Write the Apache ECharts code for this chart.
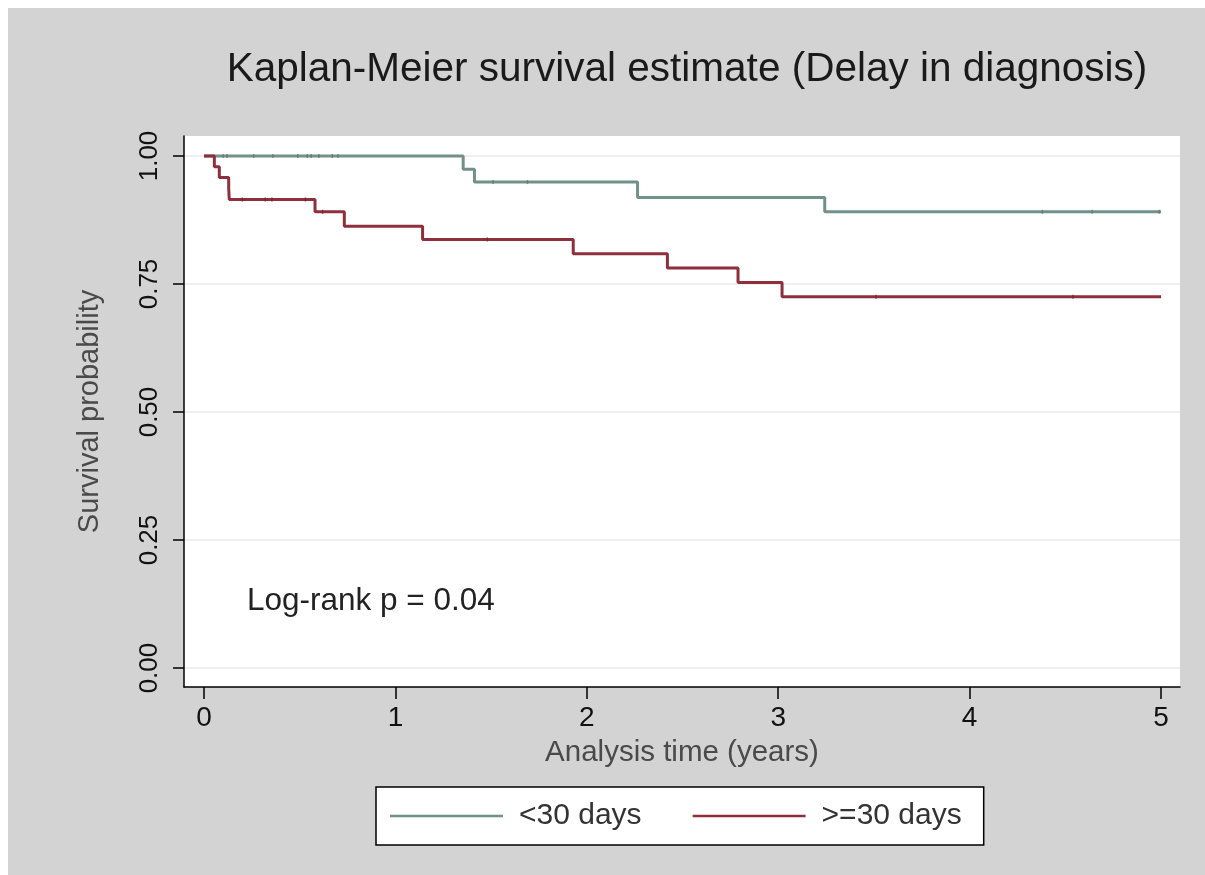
<!DOCTYPE html>
<html><head><meta charset="utf-8">
<script src="https://cdn.jsdelivr.net/npm/echarts@6/dist/echarts.min.js"></script>
<style>
html,body{margin:0;padding:0;background:#fff}
#bg{position:absolute;left:8px;top:8px;width:1197px;height:867px;background:#d3d3d3}
#c{position:absolute;left:0;top:0;width:1205px;height:875px}
</style>
</head><body><div id="bg"></div><div id="c"></div>
<script>
const titleText = 'Kaplan-Meier survival estimate (Delay in diagnosis)';
const xAxisName = 'Analysis time (years)';
const yAxisName = 'Survival probability';
const annotation = 'Log-rank p = 0.04';
const xTicks = [0, 1, 2, 3, 4, 5];
const yTicks = [0, 0.25, 0.5, 0.75, 1];
const seriesNames = ['<30 days', '>=30 days'];
// step points: [time, survival after event]
const groupLt30 = [[0,1],[1.354,0.974],[1.413,0.949],[2.265,0.919],[3.243,0.891],[5.0,0.891]];
const groupGe30 = [[0,1],[0.054,0.979],[0.080,0.958],[0.129,0.937],[0.132,0.915],[0.58,0.891],[0.733,0.863],[1.142,0.837],[1.929,0.809],[2.421,0.781],[2.79,0.753],[3.02,0.725],[5.0,0.725]];
// censor marks
const censorLt30 = [[0.10,1],[0.12,1],[0.26,1],[0.36,1],[0.49,1],[0.54,1],[0.56,1],[0.60,1],[0.67,1],[0.70,1],[1.51,0.949],[1.69,0.949],[4.38,0.891],[4.64,0.891],[4.99,0.891]];
const censorGe30 = [[0.20,0.915],[0.32,0.915],[0.355,0.915],[0.53,0.915],[0.62,0.891],[1.48,0.837],[3.51,0.725],[4.54,0.725]];

const colGreen = '#71918a';
const colRed = '#8e2f3c';
const FF = 'Liberation Sans, Arial, Helvetica, sans-serif';

const chart = echarts.init(document.getElementById('c'), null, {renderer: 'canvas'});
chart.setOption({
  backgroundColor: 'transparent',
  animation: false,
  title: {
    text: titleText, left: 682, top: 44, textAlign: 'center',
    textStyle: {fontSize: 40.5, fontWeight: 'normal', color: '#1a1a1a', fontFamily: FF}
  },
  grid: {left: 184, right: 25, top: 136, bottom: 188, show: true, backgroundColor: '#fff', borderWidth: 0, containLabel: false},
  xAxis: {
    type: 'value', min: -0.1045, max: 5.099,
    name: xAxisName, nameLocation: 'middle', nameGap: 51,
    nameTextStyle: {fontSize: 29.5, color: '#4a4a4a', fontFamily: FF},
    axisLine: {show: true, onZero: false, lineStyle: {color: '#000', width: 1.5}},
    axisTick: {show: true, length: 12, lineStyle: {color: '#000', width: 1.5}, customValues: xTicks},
    axisLabel: {customValues: xTicks, fontSize: 28, color: '#111', margin: 17, fontFamily: FF},
    splitLine: {show: false}
  },
  yAxis: {
    type: 'value', min: -0.037, max: 1.039,
    name: yAxisName, nameLocation: 'middle', nameGap: 80,
    nameTextStyle: {fontSize: 29, color: '#4a4a4a', fontFamily: FF},
    axisLine: {show: true, onZero: false, lineStyle: {color: '#000', width: 1.5}},
    axisTick: {show: true, length: 11, lineStyle: {color: '#000', width: 1.5}, customValues: yTicks},
    axisLabel: {customValues: yTicks, rotate: 90, fontSize: 26, color: '#111', margin: 21, fontFamily: FF,
      formatter: v => v.toFixed(2)},
    splitLine: {show: true, lineStyle: {color: '#eaeaea', width: 1.5}}
  },
  legend: {
    data: seriesNames, left: 376, top: 787, orient: 'horizontal', icon: 'rect',
    backgroundColor: '#fff', borderColor: '#000', borderWidth: 1.5,
    padding: [14, 22, 14, 14], itemWidth: 113, itemHeight: 2.5, itemGap: 51,
    textStyle: {fontSize: 30, color: '#333', fontFamily: FF, padding: [0, 0, 0, 11]}
  },
  graphic: [{
    type: 'text', left: 247, top: 585,
    style: {text: annotation, fontSize: 31.5, fill: '#222', fontFamily: FF}
  }],
  series: [
    {name: seriesNames[0], type: 'line', step: 'end', data: groupLt30, showSymbol: false, symbol: 'none',
      lineStyle: {color: colGreen, width: 3}, itemStyle: {color: colGreen}, z: 3},
    {name: seriesNames[1], type: 'line', step: 'end', data: groupGe30, showSymbol: false, symbol: 'none',
      lineStyle: {color: colRed, width: 3}, itemStyle: {color: colRed}, z: 3},
    {name: 'c1', type: 'scatter', data: censorLt30, symbol: 'rect', symbolSize: [1.5, 4],
      itemStyle: {color: '#5e7b74'}, z: 4, silent: true},
    {name: 'c2', type: 'scatter', data: censorGe30, symbol: 'rect', symbolSize: [1.5, 4],
      itemStyle: {color: '#722632'}, z: 4, silent: true}
  ]
});
</script></body></html>
